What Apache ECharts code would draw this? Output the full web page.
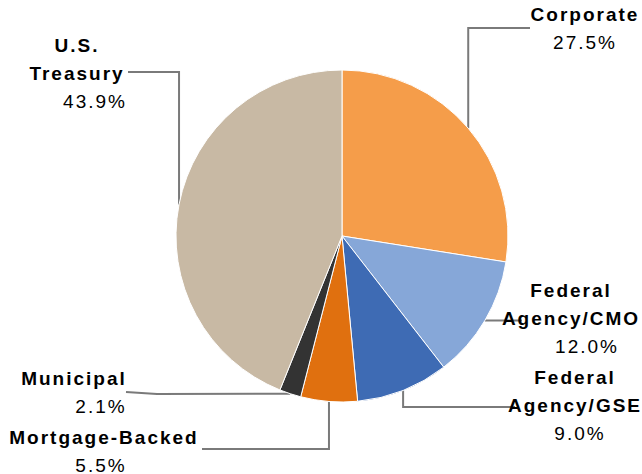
<!DOCTYPE html>
<html>
<head>
<meta charset="utf-8">
<script src="https://cdn.jsdelivr.net/npm/echarts@6/dist/echarts.min.js"></script>
<style>
  html, body { margin: 0; padding: 0; background: #ffffff; }
  #chart { width: 642px; height: 474px; }
  #chart text { letter-spacing: 2px; }
</style>
</head>
<body>
<div id="chart"></div>
<script>
// Portfolio composition by sector (percent of holdings)
const categories = ['Corporate', 'Federal Agency/CMO', 'Federal Agency/GSE', 'Mortgage-Backed', 'Municipal', 'U.S. Treasury'];
const labelText  = ['Corporate', 'Federal\nAgency/CMO', 'Federal\nAgency/GSE', 'Mortgage-Backed', 'Municipal', 'U.S.\nTreasury'];
const shares     = [27.5, 12.0, 9.0, 5.5, 2.1, 43.9];
const colors     = ['#F59D4A', '#86A7D8', '#3E6BB4', '#E0700F', '#333333', '#C8B9A4'];

// Label placement: centre x, top y, sideways shift of the percentage line, leader route
const spots = [
  { x: 585, y: 0,   shift: 0,  route: s => [s, [s[0], 28], [530, 28]] },
  { x: 571, y: 276, shift: 16, route: s => [s, [s[0] + 18, s[1]], [522, s[1]]] },
  { x: 575, y: 363, shift: 5,  route: s => [s, [s[0], 407], [515, 407]] },
  { x: 104, y: 423, shift: -3, route: s => [s, [s[0], 449], [202, 449]] },
  { x: 74,  y: 364, shift: 27, route: s => [s, [157, 394], [126, 392]] },
  { x: 77,  y: 31,  shift: 18, route: s => [s, [s[0], 72], [128, 72]] }
];

const FONT = '"Liberation Sans", Arial, sans-serif';
const CX = 342, CY = 236, R = 166;

const rich = {
  n: { fontFamily: FONT, fontWeight: 'bold', fontSize: 19, lineHeight: 28, color: '#000000', align: 'center' }
};
spots.forEach((s, i) => {
  rich['p' + i] = {
    fontFamily: FONT, fontSize: 19, lineHeight: 28, color: '#000000', align: 'center',
    padding: [0, s.shift < 0 ? -2 * s.shift : 0, 0, s.shift > 0 ? 2 * s.shift : 0]
  };
});

// Fallback leader start: slice mid-angle on the rim
function rimPoint(i) {
  const total = shares.reduce((a, b) => a + b, 0);
  let before = 0;
  for (let k = 0; k < i; k++) before += shares[k];
  const a = (before + shares[i] / 2) / total * Math.PI * 2;
  return [CX + R * Math.sin(a), CY - R * Math.cos(a)];
}

const chart = echarts.init(document.getElementById('chart'), null, { renderer: 'svg' });
chart.setOption({
  animation: false,
  backgroundColor: '#ffffff',
  series: [{
    type: 'pie',
    center: [CX, CY],
    radius: R,
    startAngle: 90,
    clockwise: true,
    avoidLabelOverlap: false,
    silent: true,
    itemStyle: { borderColor: '#ffffff', borderWidth: 1 },
    label: {
      show: true,
      position: 'outside',
      formatter: p => labelText[p.dataIndex].split('\n').map(t => '{n|' + t + '}').join('\n')
        + '\n{p' + p.dataIndex + '|' + shares[p.dataIndex].toFixed(1) + '%}',
      rich: rich
    },
    labelLine: { show: true, smooth: false, lineStyle: { color: '#7A7A7A', width: 2 } },
    labelLayout: p => {
      const s = spots[p.dataIndex];
      const start = (p.labelLinePoints && p.labelLinePoints[0]) || rimPoint(p.dataIndex);
      return { x: s.x, y: s.y, align: 'center', verticalAlign: 'top', labelLinePoints: s.route(start) };
    },
    data: categories.map((c, i) => ({ name: c, value: shares[i], itemStyle: { color: colors[i] } }))
  }]
});
</script>
</body>
</html>
